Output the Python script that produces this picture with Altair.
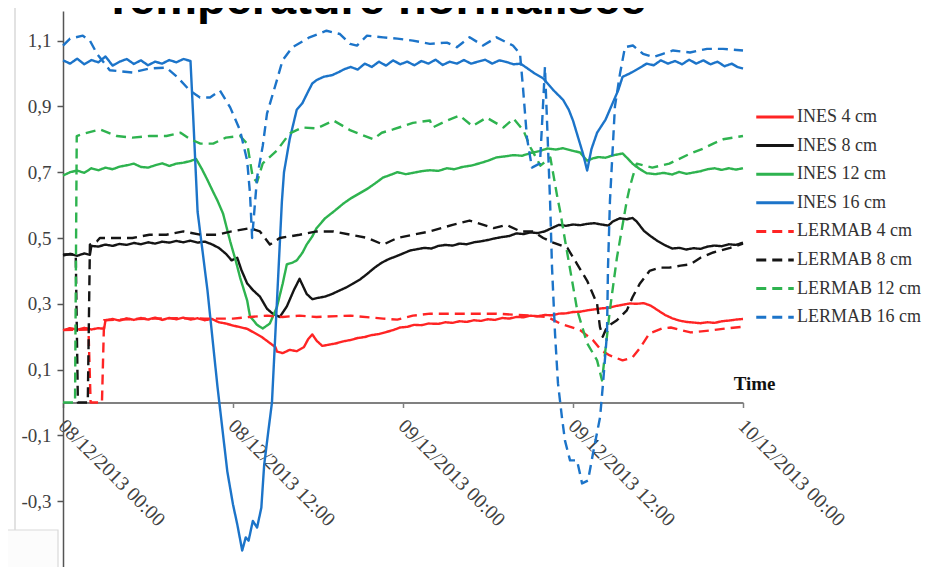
import altair as alt
import pandas as pd

TITLE = "Température normalisée"
X_AXIS_TITLE = "Time"
SERIES = ["INES 4 cm", "INES 8 cm", "INES 12 cm", "INES 16 cm",
          "LERMAB 4 cm", "LERMAB 8 cm", "LERMAB 12 cm", "LERMAB 16 cm"]
COLORS = ["#FF2424", "#151515", "#2EB34F", "#1C74C9",
          "#FF2424", "#151515", "#2EB34F", "#1C74C9"]
DASHES = [[1, 0], [1, 0], [1, 0], [1, 0], [10, 6], [10, 6], [10, 6], [10, 6]]
X_TICKS = [0, 12, 24, 36, 48]
X_LABELS = ["08/12/2013 00:00", "08/12/2013 12:00", "09/12/2013 00:00",
            "09/12/2013 12:00", "10/12/2013 00:00"]
Y_TICKS = [-0.3, -0.1, 0.1, 0.3, 0.5, 0.7, 0.9, 1.1]

# (hours since 08/12/2013 00:00, normalised temperature)
INES_4 = [(0, 0.220), (0.5, 0.226), (1, 0.221), (1.5, 0.227), (2, 0.222), (2.5, 0.226), (2.9, 0.224),
          (3.0, 0.250), (3.5, 0.254), (4, 0.249), (4.5, 0.256), (5, 0.251), (5.5, 0.257), (6, 0.252),
          (6.5, 0.258), (7, 0.251), (7.5, 0.257), (8, 0.253), (8.5, 0.258), (9, 0.252), (9.5, 0.256),
          (10, 0.250), (10.5, 0.254), (11, 0.244), (11.5, 0.240), (12, 0.234), (12.5, 0.229), (13, 0.224),
          (13.5, 0.212), (14, 0.200), (14.5, 0.184), (15, 0.168), (15.1, 0.155), (15.5, 0.150), (16, 0.160),
          (16.5, 0.156), (17, 0.168), (17.3, 0.192), (17.6, 0.207), (17.9, 0.188), (18.3, 0.172),
          (18.8, 0.176), (19.3, 0.180), (19.8, 0.186), (20.3, 0.190), (20.8, 0.196), (21.3, 0.199),
          (21.8, 0.205), (22.3, 0.208), (22.8, 0.214), (23.3, 0.220), (23.8, 0.228), (24.3, 0.230),
          (24.8, 0.236), (25.3, 0.235), (25.8, 0.240), (26.5, 0.239), (27, 0.244), (27.5, 0.242),
          (28, 0.247), (28.5, 0.245), (29, 0.250), (29.5, 0.248), (30, 0.253), (30.5, 0.251), (31, 0.257),
          (31.5, 0.255), (32, 0.260), (32.5, 0.259), (33, 0.264), (33.5, 0.262), (34, 0.266), (34.5, 0.265),
          (35, 0.270), (35.5, 0.271), (36, 0.275), (36.5, 0.276), (37, 0.280), (37.5, 0.283), (38, 0.286),
          (38.5, 0.288), (39, 0.293), (39.5, 0.297), (40, 0.301), (40.5, 0.300), (41, 0.302), (41.5, 0.294),
          (42, 0.280), (42.5, 0.266), (43, 0.256), (43.5, 0.249), (44, 0.245), (44.5, 0.243), (45, 0.241),
          (45.5, 0.244), (46, 0.242), (46.5, 0.247), (47, 0.249), (47.5, 0.252), (48, 0.254)]

INES_8 = [(0, 0.447), (0.5, 0.452), (1, 0.446), (1.5, 0.453), (1.9, 0.449), (2.0, 0.476), (2.5, 0.474),
          (3, 0.480), (3.5, 0.476), (4, 0.482), (4.5, 0.479), (5, 0.485), (5.5, 0.481), (6, 0.487),
          (6.5, 0.483), (7, 0.489), (7.5, 0.486), (8, 0.491), (8.5, 0.487), (9, 0.492), (9.5, 0.486),
          (10, 0.489), (10.5, 0.481), (11, 0.470), (11.5, 0.452), (11.9, 0.432), (12.3, 0.440),
          (12.6, 0.402), (13.0, 0.362), (13.4, 0.342), (13.9, 0.322), (14.4, 0.285), (14.8, 0.270),
          (15.3, 0.260), (15.8, 0.292), (16.3, 0.342), (16.7, 0.376), (17.2, 0.330), (17.6, 0.314),
          (18.0, 0.318), (18.5, 0.322), (19.0, 0.330), (19.5, 0.340), (20.0, 0.350), (20.5, 0.362),
          (21.0, 0.375), (21.5, 0.392), (22.0, 0.410), (22.5, 0.425), (23.0, 0.436), (23.5, 0.444),
          (24.0, 0.453), (24.5, 0.462), (25.0, 0.466), (25.5, 0.470), (26.0, 0.468), (26.5, 0.476),
          (27.0, 0.479), (27.5, 0.477), (28.0, 0.483), (28.5, 0.481), (29.0, 0.487), (29.5, 0.490),
          (30.0, 0.494), (30.5, 0.499), (31.0, 0.503), (31.5, 0.506), (32.0, 0.514), (32.5, 0.512),
          (33.0, 0.517), (33.5, 0.515), (34.0, 0.520), (34.5, 0.530), (35.0, 0.540), (35.5, 0.537),
          (36.0, 0.541), (36.5, 0.539), (37.0, 0.543), (37.5, 0.545), (38.0, 0.541), (38.5, 0.538),
          (38.8, 0.550), (39.3, 0.560), (39.8, 0.557), (40.2, 0.561), (40.5, 0.550), (41.0, 0.522),
          (41.5, 0.505), (42.0, 0.490), (42.5, 0.478), (43.0, 0.468), (43.5, 0.470), (44.0, 0.465),
          (44.5, 0.469), (45.0, 0.467), (45.5, 0.474), (46.0, 0.477), (46.5, 0.475), (47.0, 0.481),
          (47.5, 0.479), (48.0, 0.486)]

INES_12 = [(0, 0.690), (0.5, 0.700), (1, 0.705), (1.5, 0.698), (2, 0.712), (2.5, 0.706), (3, 0.714),
           (3.5, 0.709), (4, 0.717), (4.5, 0.721), (5, 0.726), (5.5, 0.716), (6, 0.714), (6.5, 0.721),
           (7, 0.727), (7.5, 0.719), (8, 0.726), (8.5, 0.729), (9, 0.734), (9.4, 0.740), (9.8, 0.710),
           (10.2, 0.676), (10.6, 0.640), (10.9, 0.614), (11.3, 0.574), (11.8, 0.490), (12.2, 0.430),
           (12.5, 0.380), (13.0, 0.310), (13.2, 0.262), (13.7, 0.236), (14.1, 0.225), (14.6, 0.240),
           (15.1, 0.290), (15.5, 0.360), (15.8, 0.420), (16.2, 0.425), (16.5, 0.432), (16.9, 0.455),
           (17.2, 0.480), (17.6, 0.505), (17.9, 0.530), (18.5, 0.560), (19.1, 0.580), (19.8, 0.605),
           (20.3, 0.620), (20.9, 0.635), (21.5, 0.650), (22.0, 0.665), (22.6, 0.684), (23.0, 0.690),
           (23.6, 0.700), (24.2, 0.694), (24.7, 0.698), (25.3, 0.703), (25.9, 0.706), (26.5, 0.704),
           (27.1, 0.712), (27.6, 0.709), (28.2, 0.716), (28.8, 0.720), (29.4, 0.727), (30.0, 0.735),
           (30.6, 0.745), (31.2, 0.748), (31.8, 0.752), (32.4, 0.750), (33.0, 0.758), (33.6, 0.764),
           (34.2, 0.772), (34.8, 0.769), (35.3, 0.773), (35.9, 0.766), (36.5, 0.760), (37.0, 0.735),
           (37.4, 0.742), (37.8, 0.746), (38.3, 0.744), (38.8, 0.751), (39.5, 0.757), (39.9, 0.740),
           (40.2, 0.726), (40.7, 0.710), (41.2, 0.697), (41.8, 0.694), (42.4, 0.698), (43.0, 0.693),
           (43.5, 0.701), (44.0, 0.695), (44.5, 0.699), (45.0, 0.703), (45.5, 0.709), (46.0, 0.712),
           (46.5, 0.707), (47.0, 0.712), (47.5, 0.708), (48.0, 0.712)]

INES_16 = [(0, 1.040), (0.5, 1.030), (1, 1.045), (1.5, 1.028), (2, 1.041), (2.5, 1.034), (3, 1.052),
           (3.5, 1.024), (4, 1.036), (4.5, 1.044), (5, 1.029), (5.5, 1.040), (6, 1.025), (6.5, 1.036),
           (7, 1.030), (7.5, 1.041), (8, 1.034), (8.5, 1.044), (9.0, 1.038), (9.2, 0.860), (9.5, 0.580),
           (10.2, 0.340), (10.9, 0.050), (11.6, -0.210), (12.0, -0.310), (12.3, -0.370), (12.65, -0.450),
           (12.9, -0.410), (13.1, -0.420), (13.4, -0.360), (13.7, -0.380), (14.0, -0.320), (14.2, -0.190),
           (14.5, -0.085), (14.75, 0.000), (15.45, 0.610), (15.6, 0.700), (16.0, 0.800), (16.5, 0.890),
           (16.9, 0.910), (17.3, 0.945), (17.6, 0.970), (17.9, 0.980), (18.4, 0.990), (19.0, 0.995),
           (19.5, 1.005), (19.8, 1.012), (20.3, 1.020), (20.8, 1.012), (21.3, 1.030), (21.8, 1.020),
           (22.3, 1.036), (22.8, 1.024), (23.3, 1.040), (23.8, 1.028), (24.3, 1.036), (24.8, 1.025),
           (25.3, 1.038), (25.8, 1.030), (26.3, 1.042), (26.8, 1.026), (27.3, 1.036), (27.8, 1.030),
           (28.3, 1.041), (28.8, 1.030), (29.3, 1.036), (29.8, 1.042), (30.3, 1.030), (30.8, 1.040),
           (31.3, 1.035), (31.8, 1.028), (32.3, 1.030), (32.8, 1.015), (33.3, 1.000), (33.9, 0.985),
           (34.6, 0.950), (35.3, 0.920), (35.7, 0.890), (36.0, 0.857), (36.4, 0.800), (36.7, 0.757),
           (37.0, 0.705), (37.3, 0.770), (37.7, 0.820), (38.3, 0.860), (38.8, 0.910), (39.2, 0.950),
           (39.5, 0.990), (40.0, 1.000), (40.5, 1.012), (41.2, 1.030), (41.7, 1.025), (42.2, 1.040),
           (42.7, 1.030), (43.2, 1.038), (43.7, 1.028), (44.2, 1.042), (44.7, 1.030), (45.2, 1.040),
           (45.7, 1.028), (46.2, 1.036), (46.7, 1.022), (47.2, 1.030), (47.6, 1.020), (48.0, 1.015)]

LERMAB_4 = [(0, 0.220), (1.8, 0.222), (1.95, 0.0), (2.75, 0.0), (2.9, 0.250), (4.0, 0.252), (6.0, 0.255),
            (8.0, 0.256), (10.0, 0.255), (12.0, 0.255), (13.2, 0.260), (14.4, 0.264), (15.5, 0.260),
            (16.7, 0.264), (17.9, 0.260), (20.3, 0.264), (22.6, 0.255), (23.6, 0.252), (24.7, 0.264),
            (25.9, 0.270), (28.2, 0.270), (30.6, 0.270), (33.0, 0.264), (34.2, 0.260), (35.1, 0.240),
            (36.5, 0.220), (37.4, 0.190), (38.0, 0.158), (38.6, 0.143), (39.5, 0.128), (40.2, 0.137),
            (40.7, 0.164), (41.4, 0.210), (42.3, 0.225), (42.9, 0.228), (44.3, 0.213), (45.9, 0.220),
            (47.0, 0.226), (48.0, 0.230)]

LERMAB_8 = [(0, 0.450), (0.9, 0.450), (1.05, 0.0), (1.75, 0.0), (1.9, 0.480), (2.4, 0.490), (2.6, 0.500),
            (3.8, 0.500), (4.9, 0.500), (6.1, 0.510), (7.3, 0.510), (8.5, 0.520), (9.7, 0.510),
            (10.9, 0.510), (11.9, 0.520), (13.2, 0.530), (13.9, 0.520), (14.6, 0.480), (15.3, 0.500),
            (16.7, 0.510), (17.9, 0.520), (19.1, 0.520), (20.3, 0.510), (21.5, 0.500), (22.6, 0.480),
            (23.6, 0.500), (24.7, 0.510), (25.9, 0.520), (27.5, 0.540), (28.7, 0.553), (29.4, 0.544),
            (30.4, 0.530), (31.3, 0.540), (32.3, 0.520), (33.2, 0.520), (33.9, 0.500), (34.6, 0.486),
            (35.6, 0.470), (36.3, 0.420), (37.0, 0.370), (37.7, 0.300), (37.9, 0.230), (38.1, 0.200),
            (38.4, 0.230), (39.1, 0.250), (39.8, 0.280), (40.2, 0.320), (40.7, 0.360), (41.4, 0.400),
            (42.1, 0.410), (42.8, 0.410), (43.6, 0.416), (44.3, 0.420), (45.0, 0.440), (45.9, 0.456),
            (47.1, 0.470), (48.0, 0.483)]

LERMAB_12 = [(0, 0.0), (0.85, 0.0), (0.97, 0.810), (1.3, 0.815), (2.6, 0.830), (3.8, 0.810), (4.9, 0.805),
             (6.1, 0.810), (7.3, 0.810), (8.3, 0.820), (9.0, 0.800), (9.7, 0.787), (10.6, 0.787),
             (11.5, 0.805), (12.5, 0.810), (13.0, 0.787), (13.2, 0.735), (13.4, 0.684), (13.7, 0.670),
             (14.1, 0.727), (15.1, 0.766), (16.0, 0.818), (16.9, 0.836), (17.9, 0.833), (19.1, 0.857),
             (20.3, 0.827), (21.9, 0.800), (22.5, 0.820), (23.3, 0.830), (24.7, 0.850), (25.9, 0.857),
             (26.1, 0.836), (27.1, 0.857), (28.0, 0.872), (28.9, 0.840), (29.9, 0.866), (31.1, 0.836),
             (31.8, 0.863), (32.5, 0.827), (33.0, 0.775), (33.7, 0.720), (34.4, 0.745), (34.6, 0.696),
             (34.9, 0.623), (35.1, 0.580), (35.45, 0.490), (36.3, 0.280), (37.0, 0.180), (37.7, 0.128),
             (38.05, 0.067), (38.6, 0.280), (39.1, 0.440), (39.8, 0.614), (40.0, 0.653), (40.2, 0.684),
             (40.5, 0.726), (41.6, 0.714), (42.8, 0.726), (44.3, 0.757), (45.2, 0.772), (45.9, 0.787),
             (46.6, 0.800), (48.0, 0.810)]

LERMAB_16 = [(0, 1.085), (0.5, 1.106), (1.4, 1.115), (1.9, 1.100), (2.4, 1.060), (3.3, 1.010), (4.9, 1.003),
             (6.1, 1.015), (7.3, 1.018), (8.05, 0.990), (8.96, 0.948), (9.67, 0.927), (10.38, 0.927),
             (11.08, 0.948), (11.8, 0.897), (12.5, 0.827), (13.0, 0.735), (13.2, 0.635), (13.35, 0.500),
             (13.7, 0.684), (14.1, 0.780), (14.4, 0.878), (15.1, 0.980), (15.5, 1.040), (16.2, 1.080),
             (17.4, 1.110), (18.6, 1.130), (19.55, 1.120), (20.26, 1.090), (20.75, 1.085), (21.46, 1.115),
             (22.6, 1.110), (23.6, 1.106), (24.7, 1.100), (25.9, 1.090), (27.1, 1.094), (27.8, 1.080),
             (28.7, 1.110), (29.65, 1.085), (30.6, 1.110), (31.76, 1.085), (32.26, 1.060), (32.47, 0.957),
             (32.75, 0.805), (33.1, 0.714), (33.67, 0.727), (33.88, 0.900), (34.02, 1.020), (34.38, 0.614),
             (34.52, 0.410), (34.73, 0.210), (34.94, 0.058), (35.22, -0.045), (35.43, -0.115),
             (35.79, -0.176), (36.28, -0.176), (36.49, -0.216), (36.64, -0.246), (37.06, -0.237),
             (37.41, -0.155), (37.91, -0.045), (38.12, 0.058), (38.4, 0.210), (38.47, 0.410),
             (38.61, 0.614), (38.96, 0.900), (39.32, 1.000), (39.67, 1.080), (40.23, 1.085),
             (40.94, 1.060), (41.65, 1.050), (42.35, 1.060), (43.06, 1.070), (44.26, 1.064),
             (45.46, 1.075), (46.59, 1.075), (48.0, 1.070)]

ALL = [INES_4, INES_8, INES_12, INES_16, LERMAB_4, LERMAB_8, LERMAB_12, LERMAB_16]

rows = []
for name, pts in zip(SERIES, ALL):
    for i, (h, v) in enumerate(pts):
        rows.append({"series": name, "h": h, "v": v, "i": i})
df = pd.DataFrame(rows)

W, H = 680, 556
Y_MIN, Y_MAX = -0.5, 1.19
ZERO_PX = H * Y_MAX / (Y_MAX - Y_MIN)
SERIF = "Liberation Serif"
AX_COL = "#404040"

x_label_expr = "[" + ",".join("'%s'" % s for s in X_LABELS) + "][round(datum.value/12)]"

legend = alt.Legend(
    title=None, orient="none", legendX=703, legendY=97, padding=0,
    symbolType="M-2.5,0H2.5", symbolSize=225, symbolStrokeWidth=3,
    labelFont=SERIF, labelFontSize=18, labelColor="#333333", labelOffset=13,
    rowPadding=10.6, labelLimit=300,
)

lines = alt.Chart(df).mark_line(strokeWidth=2.4, strokeJoin="round").encode(
    x=alt.X("h:Q", scale=alt.Scale(domain=[0, 48], nice=False, zero=False),
            axis=alt.Axis(values=X_TICKS, labelExpr=x_label_expr, offset=-(H - ZERO_PX),
                          labelAngle=45, labelAlign="left", labelBaseline="top",
                          labelPadding=8, labelOffset=5, labelFont=SERIF, labelFontSize=20,
                          labelColor=AX_COL,
                          labelOverlap=False, labelFlush=False, labelBound=False,
                          tickSize=5, tickColor="#808080", tickWidth=1.5,
                          domainColor="#808080", domainWidth=2, grid=False,
                          title=X_AXIS_TITLE, titleX=712, titleY=-13, titleAlign="right",
                          titleAngle=0, titleBaseline="alphabetic", titleFont=SERIF,
                          titleFontSize=19, titleFontWeight="bold", titleColor="#111111")),
    y=alt.Y("v:Q", scale=alt.Scale(domain=[Y_MIN, Y_MAX], nice=False, zero=False),
            axis=alt.Axis(values=Y_TICKS, labelExpr="replace(toString(datum.value), '.', ',')",
                          labelFont=SERIF, labelFontSize=19, labelColor=AX_COL, labelPadding=6,
                          tickSize=6, tickColor="#555555", tickWidth=1.5,
                          domainColor="#555555", domainWidth=1.5, grid=False, title=None)),
    color=alt.Color("series:N", scale=alt.Scale(domain=SERIES, range=COLORS), legend=legend),
    strokeDash=alt.StrokeDash("series:N", scale=alt.Scale(domain=SERIES, range=DASHES), legend=legend),
    order=alt.Order("i:Q"),
)

title = alt.Chart(pd.DataFrame({"t": [TITLE]})).mark_text(
    font="Liberation Sans", fontSize=47, fontWeight="bold", align="center",
    baseline="alphabetic", color="#000000",
).encode(text="t:N", x=alt.value(312), y=alt.value(3))

frame_line = alt.Chart(pd.DataFrame({"a": [0]})).mark_rule(color="#d9d9d9", strokeWidth=1.5).encode(
    x=alt.value(-48), y=alt.value(-20), y2=alt.value(519))

box = alt.Chart(pd.DataFrame({"a": [0]})).mark_rect(fill="#fcfcfc", stroke="#d9d9d9", strokeWidth=1.2).encode(
    x=alt.value(-70), x2=alt.value(-5), y=alt.value(519), y2=alt.value(600))

chart = alt.layer(frame_line, box, lines, title).properties(
    width=W, height=H,
    padding={"left": 55, "top": 3, "right": 182, "bottom": 0},
    autosize=alt.AutoSizeParams(type="none"),
    background="white",
).configure_view(stroke=None)

chart.save("out.html", embed_options={"renderer": "svg", "actions": False})
